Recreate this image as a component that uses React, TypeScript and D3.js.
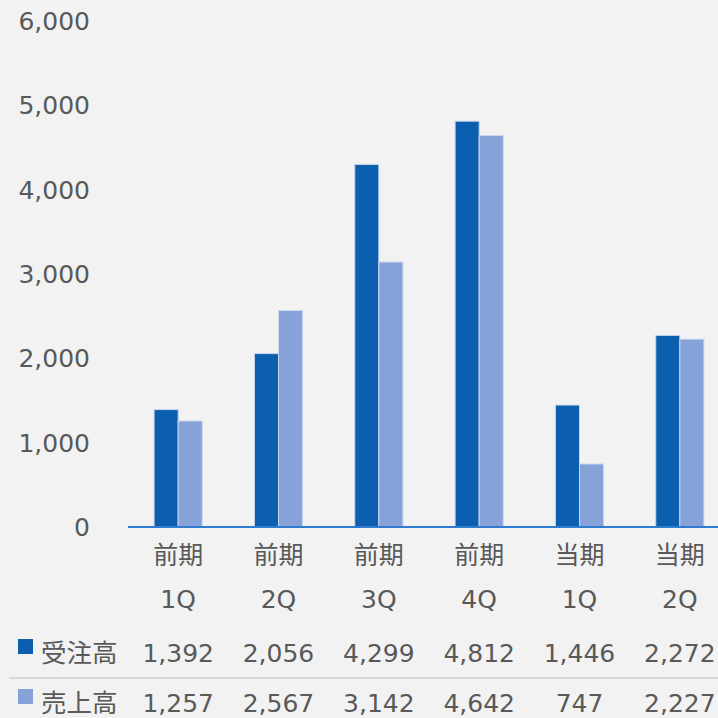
import React from 'react'
import { scaleBand, scaleLinear } from 'd3'

// chart data
const periods = ['前期', '前期', '前期', '前期', '当期', '当期']
const quarters = ['1Q', '2Q', '3Q', '4Q', '1Q', '2Q']
const seriesNames = ['受注高', '売上高']
const orders = [1392, 2056, 4299, 4812, 1446, 2272]
const sales = [1257, 2567, 3142, 4642, 747, 2227]
const yTicks = [0, 1000, 2000, 3000, 4000, 5000, 6000]

const colors = ['#0b5fae', '#87a2d8']
const textColor = '#595959'
const numFont = '"DejaVu Sans", Verdana, sans-serif'
const cjkFont = '"Noto Sans CJK JP", "Noto Sans", sans-serif'

const App = () => {
  const width = 718
  const height = 718
  const keys = periods.map((p, i) => i.toString())
  const seriesValues = [orders, sales]

  const x = scaleBand<string>().domain(keys).range([128, 730]).paddingInner(0.52).paddingOuter(0.26)
  const xInner = scaleBand<number>().domain([0, 1]).range([0, x.bandwidth()])
  const y = scaleLinear().domain([0, 6000]).range([527, 21])

  const center = (k: string) => (x(k) as number) + x.bandwidth() / 2
  const rowY = [662, 712]

  return (
    <svg width={width} height={height} style={{ position: 'absolute', left: 0, top: 0, background: '#f2f2f2' }}>
      <rect x={0} y={0} width={width} height={height} fill="#f2f2f2" />

      {/* y axis labels */}
      <g fontFamily={numFont} fontSize={25} fill={textColor} textAnchor="end">
        {yTicks.map(t => (
          <text key={t} x={90} y={y(t)} dy="0.36em">{t.toLocaleString('en-US')}</text>
        ))}
      </g>

      {/* bars */}
      {seriesValues.map((vals, s) => (
        <g key={s} fill={colors[s]} stroke="#c9d6ee" strokeWidth={1}>
          {vals.map((v, i) => (
            <rect
              key={i}
              x={(x(keys[i]) as number) + (xInner(s) as number)}
              y={y(v)}
              width={xInner.bandwidth()}
              height={y(0) - y(v)}
            />
          ))}
        </g>
      ))}

      {/* x axis line */}
      <line x1={128} x2={width} y1={y(0)} y2={y(0)} stroke="#2e7bcf" strokeWidth={2} />

      {/* category labels */}
      <g fill={textColor} textAnchor="middle">
        {keys.map((k, i) => (
          <g key={k}>
            <text x={center(k)} y={564} fontFamily={cjkFont} fontSize={25}>{periods[i]}</text>
            <text x={center(k)} y={608} fontFamily={numFont} fontSize={25}>{quarters[i]}</text>
          </g>
        ))}
      </g>

      {/* data table */}
      <line x1={9} x2={width} y1={678} y2={678} stroke="#d9d9d9" strokeWidth={2} />
      {seriesValues.map((vals, s) => (
        <g key={s}>
          <rect x={18} y={rowY[s] - 23} width={15} height={15} fill={colors[s]} />
          <text x={41} y={rowY[s]} fontFamily={cjkFont} fontSize={25.5} fill={textColor}>{seriesNames[s]}</text>
          {vals.map((v, i) => (
            <text key={i} x={center(keys[i])} y={rowY[s]} fontFamily={numFont} fontSize={25} fill={textColor} textAnchor="middle">
              {v.toLocaleString('en-US')}
            </text>
          ))}
        </g>
      ))}
    </svg>
  )
}

export default App
